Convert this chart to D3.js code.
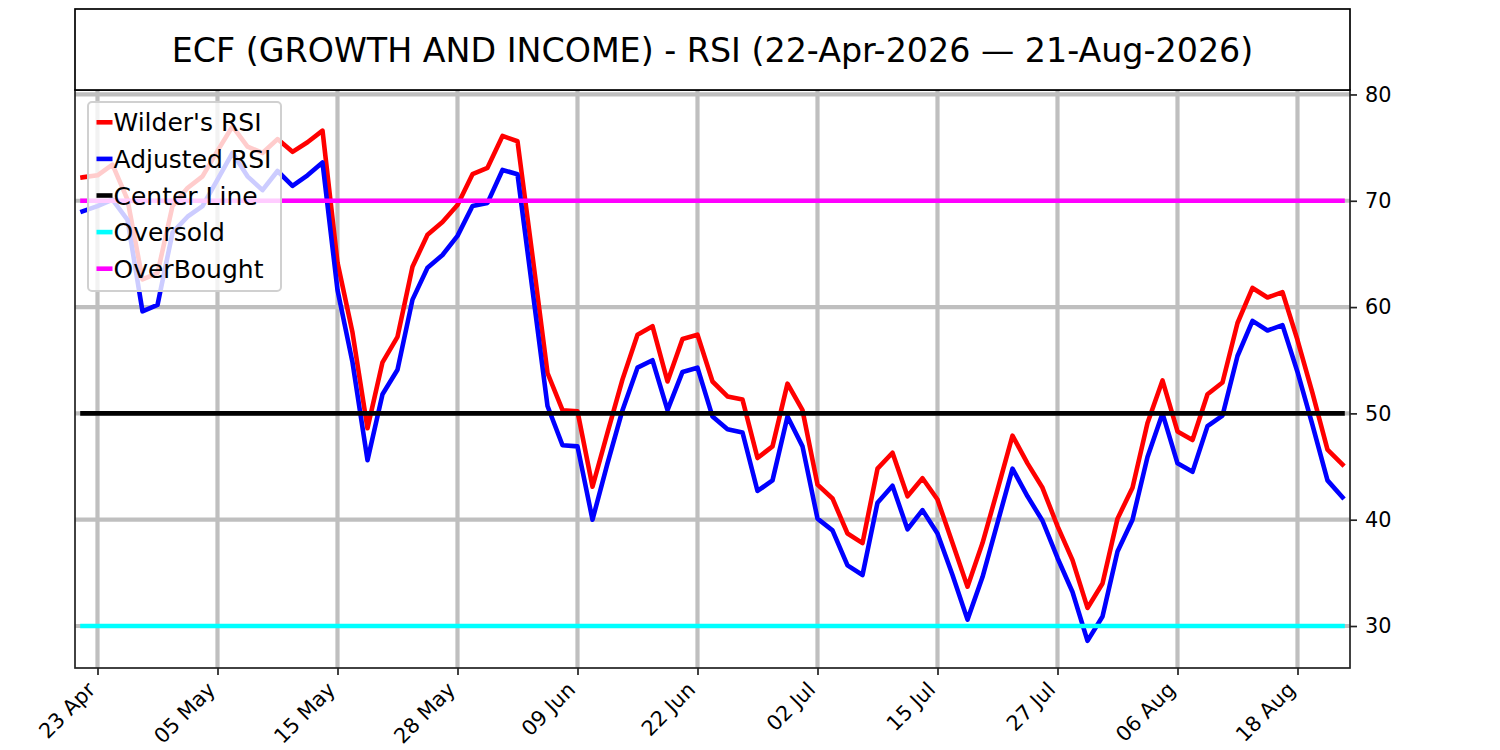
<!DOCTYPE html>
<html>
<head>
<meta charset="utf-8">
<script src="https://cdn.jsdelivr.net/npm/d3@7"></script>
<style>
  html, body { margin: 0; padding: 0; background: #fff; }
  svg { display: block; font-family: "DejaVu Sans", sans-serif; }
</style>
</head>
<body>
<svg id="chart" width="1500" height="750"></svg>
<script>
// ---- Data ----
const dates = [
  "2026-04-22","2026-04-23","2026-04-24","2026-04-27","2026-04-28","2026-04-29","2026-04-30","2026-05-01",
  "2026-05-04","2026-05-05","2026-05-06","2026-05-07","2026-05-08","2026-05-11","2026-05-12","2026-05-13",
  "2026-05-14","2026-05-15","2026-05-18","2026-05-19","2026-05-20","2026-05-21","2026-05-22","2026-05-26",
  "2026-05-27","2026-05-28","2026-05-29","2026-06-01","2026-06-02","2026-06-03","2026-06-04","2026-06-05",
  "2026-06-08","2026-06-09","2026-06-10","2026-06-11","2026-06-12","2026-06-15","2026-06-16","2026-06-17",
  "2026-06-18","2026-06-22","2026-06-23","2026-06-24","2026-06-25","2026-06-26","2026-06-29","2026-06-30",
  "2026-07-01","2026-07-02","2026-07-06","2026-07-07","2026-07-08","2026-07-09","2026-07-10","2026-07-13",
  "2026-07-14","2026-07-15","2026-07-16","2026-07-17","2026-07-20","2026-07-21","2026-07-22","2026-07-23",
  "2026-07-24","2026-07-27","2026-07-28","2026-07-29","2026-07-30","2026-07-31","2026-08-03","2026-08-04",
  "2026-08-05","2026-08-06","2026-08-07","2026-08-10","2026-08-11","2026-08-12","2026-08-13","2026-08-14",
  "2026-08-17","2026-08-18","2026-08-19","2026-08-20","2026-08-21"
];

const wildersRSI = [
  72.2,72.4,73.4,70.1,62.6,63.2,69.5,71.2,72.3,74.7,77.0,75.1,74.5,75.8,74.6,75.5,76.6,
  64.2,57.6,48.6,54.8,57.2,63.8,66.8,68.0,69.6,72.5,73.1,76.1,75.6,
  64.8,53.8,50.3,50.2,43.1,
  48.2,53.2,57.4,58.2,53.0,57.0,57.4,53.0,51.6,51.3,45.8,46.9,52.8,50.3,43.3,42.0,38.7,
  37.8,44.8,46.3,42.2,43.9,41.9,37.8,33.7,37.8,42.8,47.9,45.3,43.0,39.4,36.2,31.7,
  34.0,40.1,43.0,49.1,53.1,48.3,47.5,51.8,52.9,58.5,61.8,60.9,61.4,56.9,51.9,46.6,45.2
];

const adjustedRSI = [
  69.0,69.5,70.1,68.2,59.6,60.2,67.0,68.5,69.5,72.0,74.5,72.3,71.0,72.8,71.4,72.4,73.6,
  61.6,54.8,45.6,51.8,54.1,60.7,63.7,64.9,66.7,69.5,69.8,72.9,72.5,
  61.6,50.7,47.0,46.9,40.0,
  45.3,50.3,54.3,55.0,50.3,53.9,54.3,49.7,48.5,48.2,42.7,43.7,49.7,46.9,40.1,39.0,35.7,
  34.8,41.6,43.2,39.1,40.9,38.7,34.8,30.6,34.6,39.7,44.8,42.2,39.9,36.4,33.2,28.6,
  30.9,37.0,40.0,45.9,50.0,45.3,44.5,48.8,49.8,55.4,58.7,57.8,58.3,53.9,48.9,43.7,42.1
];

const centerLevel = 50;
const oversoldLevel = 30;
const overboughtLevel = 70;

const tickDates = ["2026-04-23","2026-05-05","2026-05-15","2026-05-28","2026-06-09","2026-06-22",
                   "2026-07-02","2026-07-15","2026-07-27","2026-08-06","2026-08-18"];
const yTicks = [30, 40, 50, 60, 70, 80];

const titleText = "ECF (GROWTH AND INCOME) - RSI (22-Apr-2026 \u2014 21-Aug-2026)";

const seriesDefs = [
  { name: "Wilder's RSI", color: "#ff0000", values: wildersRSI },
  { name: "Adjusted RSI", color: "#0000ff", values: adjustedRSI }
];
const levelDefs = [
  { name: "Center Line", color: "#000000", level: centerLevel },
  { name: "Oversold", color: "#00ffff", level: oversoldLevel },
  { name: "OverBought", color: "#ff00ff", level: overboughtLevel }
];

// ---- Layout ----
const L = 75, R = 1350, T = 90, B = 668;
const svg = d3.select("#chart");

const x = d3.scaleLinear().domain([-0.5, dates.length - 0.5]).range([L, R]);
const y = d3.scaleLinear().domain([26.05, 80.42]).range([B, T]);

const parse = d3.timeParse("%Y-%m-%d");
const fmt = d3.timeFormat("%d %b");
const tickIdx = tickDates.map(d => dates.indexOf(d));

// grid
const grid = svg.append("g");
grid.selectAll("line.v").data(tickIdx).enter().append("line")
  .attr("x1", d => x(d)).attr("x2", d => x(d))
  .attr("y1", T).attr("y2", B)
  .attr("stroke", "#bfbfbf").attr("stroke-width", 4.2);
grid.selectAll("line.h").data(yTicks).enter().append("line")
  .attr("x1", L).attr("x2", R)
  .attr("y1", d => y(d)).attr("y2", d => y(d))
  .attr("stroke", "#bfbfbf").attr("stroke-width", 4.2);

// series
const line = d3.line().x((d, i) => x(i)).y(d => y(d));
seriesDefs.forEach(s => {
  svg.append("path").datum(s.values)
    .attr("d", line)
    .attr("fill", "none")
    .attr("stroke", s.color)
    .attr("stroke-width", 4.6)
    .attr("stroke-linejoin", "round")
    .attr("stroke-linecap", "square");
});
levelDefs.forEach(l => {
  const vals = dates.map(() => l.level);
  svg.append("path").datum(vals)
    .attr("d", line)
    .attr("fill", "none")
    .attr("stroke", l.color)
    .attr("stroke-width", 4.6)
    .attr("stroke-linecap", "square");
});

// spines
const spine = svg.append("g").attr("stroke", "#222").attr("stroke-width", 1.7).attr("fill", "none");
spine.append("rect").attr("x", L).attr("y", T).attr("width", R - L).attr("height", B - T);

// x axis
const xAxis = svg.append("g").attr("transform", `translate(0,${B})`)
  .call(d3.axisBottom(x).tickValues(tickIdx).tickSize(7).tickFormat(""));
xAxis.select(".domain").remove();
xAxis.selectAll(".tick line").attr("stroke", "#222").attr("stroke-width", 1.7);
svg.append("g").selectAll("text").data(tickIdx).enter().append("text")
  .attr("transform", d => `translate(${x(d) - 1},${B + 23}) rotate(-45)`)
  .attr("text-anchor", "end")
  .attr("font-size", 20.8)
  .attr("fill", "#000")
  .text(d => fmt(parse(dates[d])));

// y axis (right)
const yAxis = svg.append("g").attr("transform", `translate(${R},0)`)
  .call(d3.axisRight(y).tickValues(yTicks).tickSize(7).tickPadding(8));
yAxis.select(".domain").remove();
yAxis.selectAll(".tick line").attr("stroke", "#222").attr("stroke-width", 1.7);
yAxis.selectAll(".tick text").attr("font-size", 20.8).attr("fill", "#000")
  .attr("font-family", "DejaVu Sans");

// title box
svg.append("rect").attr("x", L).attr("y", 9).attr("width", R - L).attr("height", T - 9)
  .attr("fill", "#fff").attr("stroke", "#000").attr("stroke-width", 1.7);
svg.append("text").attr("x", (L + R) / 2).attr("y", 61.5)
  .attr("text-anchor", "middle").attr("font-size", 33.3).attr("fill", "#000")
  .text(titleText);

// legend
const legendItems = seriesDefs.map(s => ({ name: s.name, color: s.color }))
  .concat(levelDefs.map(l => ({ name: l.name, color: l.color })));
const lg = svg.append("g");
lg.append("rect").attr("x", 88).attr("y", 102).attr("width", 193).attr("height", 189)
  .attr("rx", 4).attr("fill", "#fff").attr("fill-opacity", 0.8)
  .attr("stroke", "#d0d0d0").attr("stroke-width", 2);
const rows = lg.selectAll("g.row").data(legendItems).enter().append("g")
  .attr("transform", (d, i) => `translate(0,${122.3 + i * 36.6})`);
rows.append("line").attr("x1", 96.5).attr("x2", 112.5).attr("y1", 0).attr("y2", 0)
  .attr("stroke", d => d.color).attr("stroke-width", 4.6);
rows.append("text").attr("x", 113.5).attr("y", 9).attr("font-size", 25).attr("fill", "#000")
  .text(d => d.name);
</script>
</body>
</html>
